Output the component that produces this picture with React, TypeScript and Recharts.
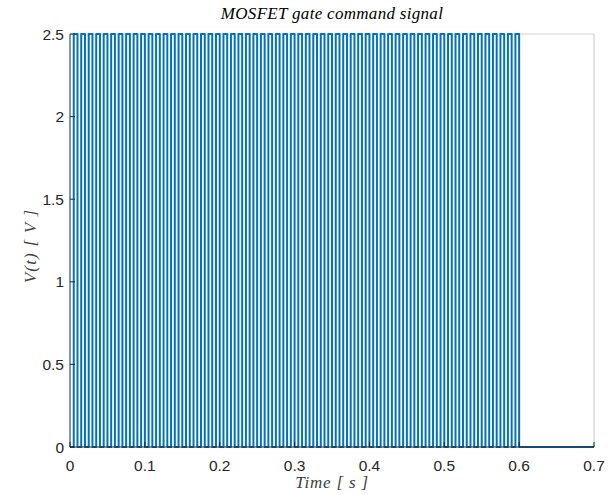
import React from "react";
import { LineChart, Line, XAxis, YAxis, ReferenceLine } from "recharts";

// Gate command: rising edge (pulse start) and falling edge (pulse end) times, seconds
const pulseStarts = [
  0.005, 0.015, 0.025, 0.035, 0.045, 0.055, 0.065, 0.075, 0.085, 0.095,
  0.105, 0.115, 0.125, 0.135, 0.145, 0.155, 0.165, 0.175, 0.185, 0.195,
  0.205, 0.215, 0.225, 0.235, 0.245, 0.255, 0.265, 0.275, 0.285, 0.295,
  0.305, 0.315, 0.325, 0.335, 0.345, 0.355, 0.365, 0.375, 0.385, 0.395,
  0.405, 0.415, 0.425, 0.435, 0.445, 0.455, 0.465, 0.475, 0.485, 0.495,
  0.505, 0.515, 0.525, 0.535, 0.545, 0.555, 0.565, 0.575, 0.585, 0.595,
];
const pulseEnds = [
  0.01, 0.02, 0.03, 0.04, 0.05, 0.06, 0.07, 0.08, 0.09, 0.1,
  0.11, 0.12, 0.13, 0.14, 0.15, 0.16, 0.17, 0.18, 0.19, 0.2,
  0.21, 0.22, 0.23, 0.24, 0.25, 0.26, 0.27, 0.28, 0.29, 0.3,
  0.31, 0.32, 0.33, 0.34, 0.35, 0.36, 0.37, 0.38, 0.39, 0.4,
  0.41, 0.42, 0.43, 0.44, 0.45, 0.46, 0.47, 0.48, 0.49, 0.5,
  0.51, 0.52, 0.53, 0.54, 0.55, 0.56, 0.57, 0.58, 0.59, 0.6,
];
const highLevel = 2.5;
const lowLevel = 0;
const startTime = 0;
const endTime = 0.7;

const xTicks = [0, 0.1, 0.2, 0.3, 0.4, 0.5, 0.6, 0.7];
const yTicks = [0, 0.5, 1, 1.5, 2, 2.5];

const data: { t: number; v: number }[] = [{ t: startTime, v: lowLevel }];
pulseStarts.forEach((s, i) => {
  data.push({ t: s, v: highLevel });
  data.push({ t: pulseEnds[i], v: lowLevel });
});
data.push({ t: endTime, v: lowLevel });

const AXIS = "#262626";
const TICKFONT = "'Liberation Sans', Arial, Helvetica, sans-serif";
const MATHFONT = "'Liberation Serif', 'Times New Roman', serif";

const XTick = (props: any) => {
  const { x, y, payload } = props;
  return (
    <g>
      <line x1={x} x2={x} y1={y} y2={y - 5} stroke={AXIS} strokeWidth={1} />
      <text
        x={x}
        y={y + 18}
        textAnchor="middle"
        dominantBaseline="central"
        fontFamily={TICKFONT}
        fontSize={15.5}
        fill={AXIS}
      >
        {String(payload.value)}
      </text>
    </g>
  );
};

const YTick = (props: any) => {
  const { x, y, payload } = props;
  return (
    <g>
      <line x1={x} x2={x + 5} y1={y} y2={y} stroke={AXIS} strokeWidth={1} />
      <text
        x={x - 6}
        y={y}
        textAnchor="end"
        dominantBaseline="central"
        fontFamily={TICKFONT}
        fontSize={15.5}
        fill={AXIS}
      >
        {String(payload.value)}
      </text>
    </g>
  );
};

export default function App() {
  return (
    <div style={{ position: "absolute", left: 0, top: 0, width: 608, height: 495, background: "#fff" }}>
      <LineChart
        width={608}
        height={495}
        data={data}
        margin={{ top: 34, right: 14, bottom: 0, left: 0 }}
      >
        <text
          x={332}
          y={13}
          textAnchor="middle"
          dominantBaseline="central"
          fontFamily={MATHFONT}
          fontStyle="italic"
          fontSize={17}
          letterSpacing={0.3}
          fill="#000"
        >
          MOSFET gate command signal
        </text>
        <text
          x={332}
          y={482}
          textAnchor="middle"
          dominantBaseline="central"
          fontFamily={MATHFONT}
          fontStyle="italic"
          fontSize={17}
          letterSpacing={0.8}
          fill="#404040"
        >
          Time [ s ]
        </text>
        <text
          x={30}
          y={246}
          textAnchor="middle"
          dominantBaseline="central"
          fontFamily={MATHFONT}
          fontStyle="italic"
          fontSize={17}
          letterSpacing={1.2}
          fill="#404040"
          transform="rotate(-90 30 246)"
        >
          V(t) [ V ]
        </text>
        <XAxis
          dataKey="t"
          type="number"
          domain={[0, 0.7]}
          ticks={xTicks}
          height={48}
          tickSize={0}
          tickMargin={0}
          tick={<XTick />}
          axisLine={{ stroke: AXIS, strokeWidth: 1 }}
          tickLine={false}
          interval={0}
        />
        <YAxis
          type="number"
          domain={[0, 2.5]}
          ticks={yTicks}
          width={70}
          tickSize={0}
          tickMargin={0}
          tick={<YTick />}
          axisLine={{ stroke: AXIS, strokeWidth: 1 }}
          tickLine={false}
          interval={0}
        />
        <ReferenceLine y={2.5} stroke="#d4d4d4" strokeWidth={1} />
        <ReferenceLine x={0.7} stroke="#c8c8c8" strokeWidth={1} />
        <Line
          dataKey="v"
          type="stepAfter"
          stroke="#0072BD"
          strokeWidth={2}
          strokeLinejoin="round"
          dot={false}
          activeDot={false}
          isAnimationActive={false}
        />
      </LineChart>
    </div>
  );
}
